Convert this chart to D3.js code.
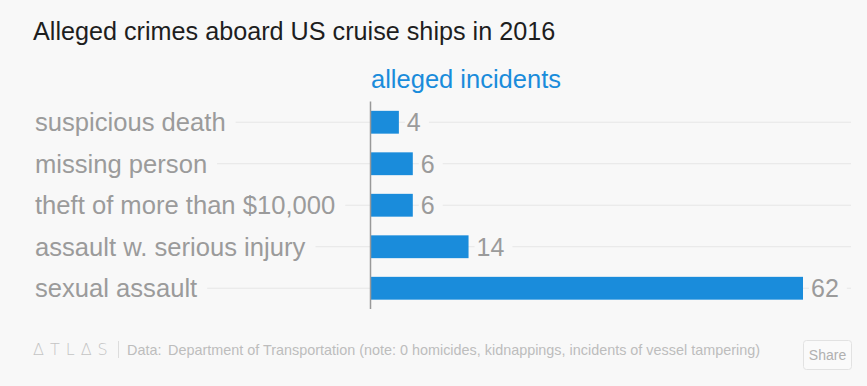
<!DOCTYPE html>
<html>
<head>
<meta charset="utf-8">
<script src="https://cdn.jsdelivr.net/npm/d3@7"></script>
<style>
  html, body { margin: 0; padding: 0; background: #f8f8f8; }
  svg { display: block; font-family: "Liberation Sans", Arial, sans-serif; }
</style>
</head>
<body>
<div id="chart"></div>
<script>
// Alleged crimes aboard US cruise ships, 2016 — horizontal bars.

const categories = [
  "suspicious death",
  "missing person",
  "theft of more than $10,000",
  "assault w. serious injury",
  "sexual assault",
];
const incidents = [4, 6, 6, 14, 62];

const TITLE = "Alleged crimes aboard US cruise ships in 2016";
const SERIES_LABEL = "alleged incidents";
const SOURCE_LABEL = "Data:";
const SOURCE_TEXT =
  "Department of Transportation (note: 0 homicides, kidnappings, incidents of vessel tampering)";

const W = 867;
const H = 386;
const BG = "#f8f8f8";
const BLUE = "#1a8cdb";
const GREY = "#9b9b9b";

const svg = d3
  .select("#chart")
  .append("svg")
  .attr("width", W)
  .attr("height", H)
  .attr("viewBox", `0 0 ${W} ${H}`);

svg.append("rect").attr("width", W).attr("height", H).attr("fill", BG);

// ─── scales ─────────────────────────────────────────────────────────────
const x0 = 371;
const x = d3.scaleLinear().domain([0, 62]).range([x0, 803]);
const y = d3
  .scaleBand()
  .domain(categories)
  .range([101.5, 309])
  .paddingInner(0.45)
  .paddingOuter(0.225);

const rows = categories.map((c, i) => ({ cat: c, v: incidents[i] }));

// ─── title + series label ──────────────────────────────────────────────
svg
  .append("text")
  .attr("x", 33)
  .attr("y", 40)
  .attr("font-size", 25.2)
  .attr("font-weight", 500)
  .attr("fill", "#1e1e1e")
  .text(TITLE);

svg
  .append("text")
  .attr("x", x0)
  .attr("y", 88)
  .attr("font-size", 25.5)
  .attr("fill", BLUE)
  .text(SERIES_LABEL);

// ─── gridlines ─────────────────────────────────────────────────────────
svg
  .append("g")
  .attr("class", "grid")
  .selectAll("line")
  .data(rows)
  .join("line")
  .attr("x1", 33)
  .attr("x2", 851)
  .attr("y1", (d) => y(d.cat) + y.bandwidth() / 2)
  .attr("y2", (d) => y(d.cat) + y.bandwidth() / 2)
  .attr("stroke", "#e6e6e6")
  .attr("stroke-width", 1);

// ─── category labels (with background knock-out) ───────────────────────
const labelG = svg.append("g").attr("class", "labels");
const labels = labelG
  .selectAll("g")
  .data(rows)
  .join("g");
labels
  .append("text")
  .attr("x", 35)
  .attr("y", (d) => y(d.cat) + y.bandwidth() / 2)
  .attr("dy", "0.35em")
  .attr("font-size", 25.6)
  .attr("fill", GREY)
  .text((d) => d.cat);
labels.each(function () {
  const g = d3.select(this);
  const b = g.select("text").node().getBBox();
  g.insert("rect", "text")
    .attr("x", b.x - 2)
    .attr("y", b.y)
    .attr("width", b.width + 12)
    .attr("height", b.height)
    .attr("fill", BG);
});

// ─── bars ──────────────────────────────────────────────────────────────
svg
  .append("g")
  .attr("class", "bars")
  .selectAll("rect")
  .data(rows)
  .join("rect")
  .attr("x", x(0))
  .attr("y", (d) => y(d.cat))
  .attr("width", (d) => x(d.v) - x(0))
  .attr("height", y.bandwidth())
  .attr("fill", BLUE);

// ─── value labels ──────────────────────────────────────────────────────
const vals = svg
  .append("g")
  .attr("class", "values")
  .selectAll("g")
  .data(rows)
  .join("g");
vals
  .append("text")
  .attr("x", (d) => x(d.v) + 8)
  .attr("y", (d) => y(d.cat) + y.bandwidth() / 2)
  .attr("dy", "0.35em")
  .attr("font-size", 25)
  .attr("fill", GREY)
  .text((d) => d.v);
vals.each(function () {
  const g = d3.select(this);
  const b = g.select("text").node().getBBox();
  g.insert("rect", "text")
    .attr("x", b.x - 2)
    .attr("y", b.y)
    .attr("width", b.width + 10)
    .attr("height", b.height)
    .attr("fill", BG);
});

// ─── axis line ─────────────────────────────────────────────────────────
svg
  .append("line")
  .attr("x1", x0 - 0.5)
  .attr("x2", x0 - 0.5)
  .attr("y1", 101.5)
  .attr("y2", 309)
  .attr("stroke", "#999")
  .attr("stroke-width", 1.5);

// ─── footer ────────────────────────────────────────────────────────────
const foot = svg.append("g").attr("class", "footer");
foot
  .append("text")
  .attr("x", 33)
  .attr("y", 355)
  .attr("font-size", 16)
  .attr("font-family", "'DejaVu Sans', sans-serif")
  .attr("font-weight", 200)
  .attr("letter-spacing", 6)
  .attr("fill", "#c4c4c4")
  .text("ΔTLΔS");
foot
  .append("line")
  .attr("x1", 118.5)
  .attr("x2", 118.5)
  .attr("y1", 341)
  .attr("y2", 358)
  .attr("stroke", "#ddd");
foot
  .append("text")
  .attr("x", 127)
  .attr("y", 355)
  .attr("font-size", 14.4)
  .attr("fill", "#bdbdbd")
  .text(SOURCE_LABEL);
foot
  .append("text")
  .attr("x", 168)
  .attr("y", 355)
  .attr("font-size", 14.4)
  .attr("fill", "#bdbdbd")
  .text(SOURCE_TEXT);

foot
  .append("rect")
  .attr("x", 803.5)
  .attr("y", 340.5)
  .attr("width", 48)
  .attr("height", 29)
  .attr("rx", 3)
  .attr("fill", "#fafafa")
  .attr("stroke", "#e2e2e2");
foot
  .append("text")
  .attr("x", 827.5)
  .attr("y", 360)
  .attr("text-anchor", "middle")
  .attr("font-size", 14)
  .attr("fill", "#b0b0b0")
  .text("Share");
</script>
</body>
</html>
